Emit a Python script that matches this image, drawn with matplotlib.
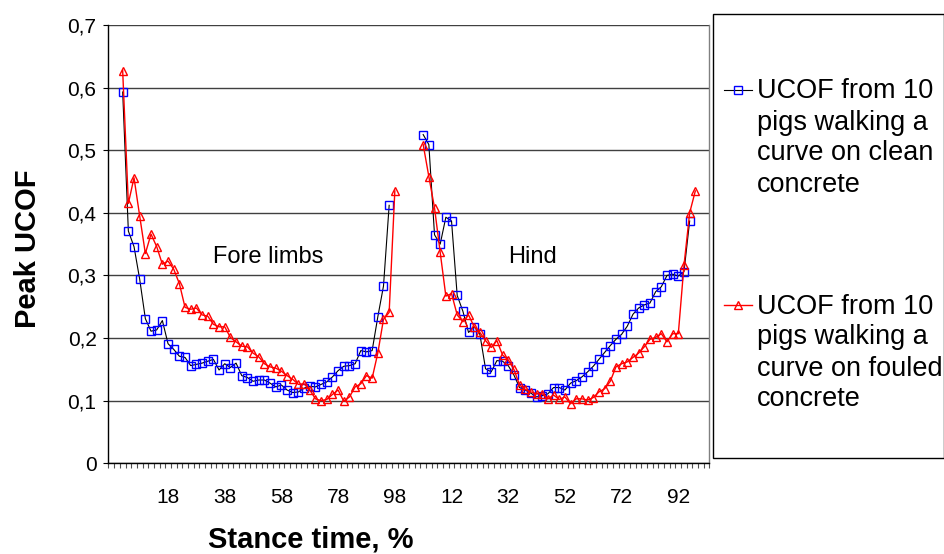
import numpy as np
import matplotlib
matplotlib.use("Agg")
import matplotlib.pyplot as plt
from matplotlib.lines import Line2D
from matplotlib.patches import Rectangle

plt.rcParams['font.family'] = ['Liberation Sans', 'DejaVu Sans']

# ---------------- data ----------------
# stance time (%) for each limb phase
fore_clean_pct = list(range(2, 97, 2))     # 2..96
fore_fouled_pct = list(range(2, 99, 2))    # 2..98
hind_clean_pct = list(range(2, 97, 2))
hind_fouled_pct = list(range(2, 99, 2))

fore_clean = [0.593, 0.371, 0.346, 0.294, 0.231, 0.211, 0.213, 0.228, 0.191, 0.182,
              0.171, 0.169, 0.156, 0.158, 0.160, 0.163, 0.166, 0.149, 0.159, 0.153,
              0.160, 0.140, 0.137, 0.131, 0.133, 0.133, 0.128, 0.122, 0.125, 0.117,
              0.113, 0.114, 0.120, 0.123, 0.122, 0.126, 0.130, 0.138, 0.148, 0.155,
              0.156, 0.159, 0.180, 0.178, 0.180, 0.234, 0.283, 0.412]
fore_fouled = [0.627, 0.415, 0.456, 0.395, 0.335, 0.366, 0.346, 0.318, 0.323, 0.310,
               0.287, 0.249, 0.246, 0.248, 0.237, 0.235, 0.222, 0.218, 0.218, 0.201,
               0.194, 0.187, 0.186, 0.176, 0.170, 0.159, 0.154, 0.152, 0.147, 0.140,
               0.134, 0.126, 0.127, 0.117, 0.103, 0.100, 0.102, 0.110, 0.117, 0.099,
               0.106, 0.122, 0.127, 0.140, 0.136, 0.176, 0.230, 0.241, 0.435]
hind_clean = [0.525, 0.509, 0.365, 0.350, 0.393, 0.387, 0.268, 0.243, 0.209, 0.218,
              0.206, 0.151, 0.146, 0.164, 0.163, 0.156, 0.141, 0.121, 0.117, 0.112,
              0.106, 0.108, 0.111, 0.121, 0.121, 0.117, 0.128, 0.132, 0.138, 0.146,
              0.155, 0.166, 0.177, 0.188, 0.198, 0.206, 0.219, 0.238, 0.248, 0.253,
              0.256, 0.274, 0.282, 0.300, 0.302, 0.299, 0.306, 0.387]
hind_fouled = [0.509, 0.458, 0.408, 0.337, 0.267, 0.271, 0.237, 0.226, 0.237, 0.218,
               0.209, 0.196, 0.185, 0.196, 0.173, 0.165, 0.150, 0.125, 0.118, 0.114,
               0.111, 0.111, 0.103, 0.109, 0.102, 0.106, 0.095, 0.103, 0.103, 0.101,
               0.105, 0.114, 0.119, 0.131, 0.154, 0.159, 0.162, 0.169, 0.176, 0.186,
               0.198, 0.201, 0.207, 0.194, 0.207, 0.207, 0.316, 0.400, 0.435]

fore_tick_pct = [18, 38, 58, 78, 98]
hind_tick_pct = [12, 32, 52, 72, 92]

series_labels = ["UCOF from 10\npigs walking a\ncurve on clean\nconcrete",
                 "UCOF from 10\npigs walking a\ncurve on fouled\nconcrete"]
y_ticks = [0, 0.1, 0.2, 0.3, 0.4, 0.5, 0.6, 0.7]

# category axis: one category per 2 % step; hind block follows fore block
HIND_OFFSET = 53


def fore_pos(p):
    return np.asarray(p) / 2.0


def hind_pos(p):
    return HIND_OFFSET + np.asarray(p) / 2.0


# ---------------- figure ----------------
W, H = 945, 554
fig = plt.figure(figsize=(W / 100, H / 100), dpi=100)
ax_l, ax_r, ax_t, ax_b = 108.5, 709.5, 25.0, 463.3
ax = fig.add_axes([ax_l / W, (H - ax_b) / H, (ax_r - ax_l) / W, (ax_b - ax_t) / H])

clean_kw = dict(color='black', lw=0.8, marker='s', ms=5.2, mec='#0000ff',
                mfc='none', mew=1.0)
fouled_kw = dict(color='#ff0000', lw=1.0, marker='^', ms=5.8, mec='#ff0000',
                 mfc='none', mew=1.0)

ax.plot(fore_pos(fore_clean_pct), fore_clean, **clean_kw)
ax.plot(hind_pos(hind_clean_pct), hind_clean, **clean_kw)
ax.plot(fore_pos(fore_fouled_pct), fore_fouled, **fouled_kw)
ax.plot(hind_pos(hind_fouled_pct), hind_fouled, **fouled_kw)

ax.set_xlim(-1.5, 104.5)
ax.set_ylim(0, 0.7)

# y axis
ax.set_yticks(y_ticks)
ax.set_yticklabels([('%g' % v).replace('.', ',') for v in y_ticks])
ax.yaxis.grid(True, color='#404040', lw=1.0)
ax.set_axisbelow(True)
ax.tick_params(axis='y', direction='out', length=3.6, width=0.8, pad=5,
               labelsize=15, colors='black')

# x axis
xt = list(fore_pos(fore_tick_pct)) + list(hind_pos(hind_tick_pct))
ax.set_xticks(xt)
ax.set_xticklabels([str(p) for p in fore_tick_pct + hind_tick_pct])
ax.set_xticks(np.arange(-1.5, 104.6, 1.0), minor=True)
ax.tick_params(axis='x', which='major', length=0, pad=17.5, labelsize=15)
ax.tick_params(axis='x', which='minor', direction='out', length=3.6, width=0.8,
               color='#505050')

for s in ['left', 'bottom']:
    ax.spines[s].set_color('black')
    ax.spines[s].set_linewidth(1.0)
ax.spines['top'].set_visible(False)
ax.spines['right'].set_color('#808080')
ax.spines['right'].set_linewidth(1.0)

# in-plot annotations
ax.text(26.7, 0.33, "Fore limbs", fontsize=17, ha='center', va='center')
ax.text(73.3, 0.33, "Hind", fontsize=17, ha='center', va='center')

# axis titles
fig.text(311 / W, 1 - 540 / H, "Stance time, %", fontsize=21, fontweight='bold',
         ha='center', va='center')
fig.text(28 / W, 1 - 249 / H, "Peak UCOF", fontsize=21, fontweight='bold',
         ha='center', va='center', rotation=90)

# legend (drawn in pixel coordinates of an overlay)
ov = fig.add_axes([0, 0, 1, 1], facecolor='none')
ov.set_xlim(0, W)
ov.set_ylim(H, 0)
ov.axis('off')
ov.add_patch(Rectangle((713, 14), 231, 444, fill=False, ec='black', lw=1.0))
for (ycen, kw, lab) in [(90, clean_kw, series_labels[0]), (305, fouled_kw, series_labels[1])]:
    ov.add_line(Line2D([724, 752], [ycen, ycen], color=kw['color'], lw=kw['lw']))
    ov.add_line(Line2D([738], [ycen], ls='none', marker=kw['marker'], ms=kw['ms'],
                       mec=kw['mec'], mfc='none', mew=kw['mew']))
    ov.text(757, ycen - 11.5, lab, fontsize=19.5, ha='left', va='top', linespacing=1.25)

fig.savefig('out.png', dpi=100)
